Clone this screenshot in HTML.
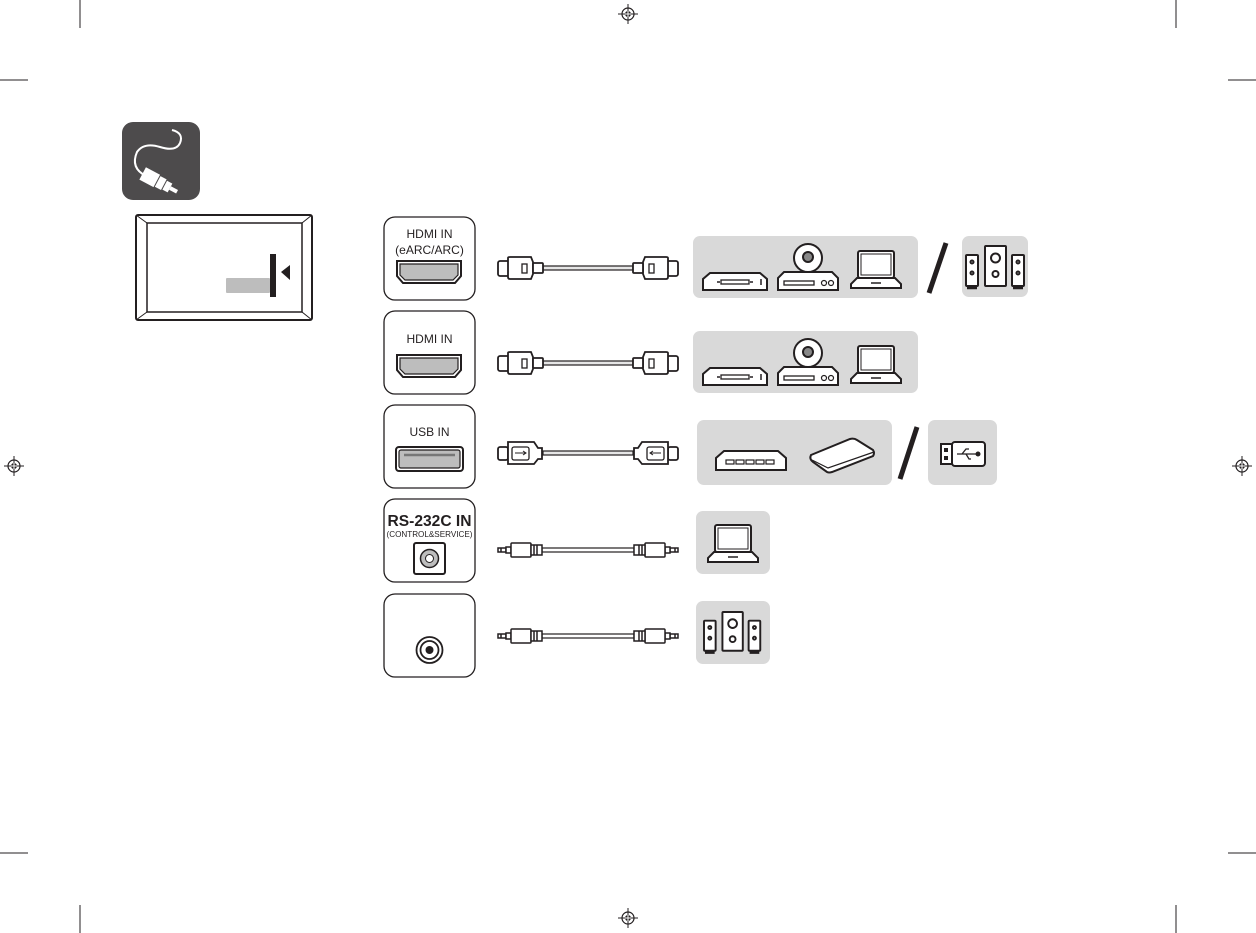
<!DOCTYPE html>
<html><head><meta charset="utf-8"><style>
html,body{margin:0;padding:0;background:#fff}
svg{display:block}
text{font-family:"Liberation Sans","DejaVu Sans",sans-serif;fill:#231f20}
</style></head><body>
<svg width="1256" height="933" viewBox="0 0 1256 933" xmlns="http://www.w3.org/2000/svg">
<defs>
<g id="reg"><circle cx="0" cy="0" r="6" fill="none" stroke="#231f20" stroke-width="1.2"/><circle cx="0" cy="0" r="3" fill="#231f20"/><path d="M-10 0H10M0 -10V10" stroke="#231f20" stroke-width="1"/><path d="M-3 0H3M0 -3V3" stroke="#fff" stroke-width="1"/></g>
<g id="laptop" fill="#fff" stroke="#231f20" stroke-width="2"><rect x="7" y="1" width="36" height="27" rx="2"/><rect x="10" y="4" width="30" height="21" stroke-width="1"/><path d="M0 38H50V34L44 28H6L0 34Z"/><path d="M20 33H30" stroke-width="1.5"/></g>
<g id="dvd" fill="#fff" stroke="#231f20" stroke-width="2"><circle cx="30" cy="15" r="14"/><circle cx="30" cy="14" r="5" fill="#888"/><path d="M0 47H60V35L54 29H6L0 35Z"/><rect x="6" y="38" width="30" height="4" stroke-width="1.3"/><circle cx="46" cy="40" r="2.5" stroke-width="1.2"/><circle cx="53" cy="40" r="2.5" stroke-width="1.2"/></g>
<g id="vcr" fill="#fff" stroke="#231f20" stroke-width="2"><path d="M0 18H64V7L57 1H7L0 7Z"/><rect x="18" y="8" width="28" height="4" stroke-width="1.3"/><path d="M14 10H17M47 10H50M58 7V13" stroke-width="1.5"/></g>
<g id="spk" fill="#fff" stroke="#231f20" stroke-width="2"><rect x="0" y="10" width="12" height="31" rx="1"/><rect x="46" y="10" width="12" height="31" rx="1"/><rect x="19" y="1" width="21" height="40" rx="1"/><circle cx="29.5" cy="13" r="4.5"/><circle cx="29.5" cy="29" r="3"/><circle cx="6" cy="17" r="1.5"/><circle cx="6" cy="28" r="1.5"/><circle cx="52" cy="17" r="1.5"/><circle cx="52" cy="28" r="1.5"/><path d="M1 43H11M47 43H57" stroke-width="2.5"/></g>
<g id="hdmiplug" fill="#fff" stroke="#231f20" stroke-width="1.8"><rect x="0" y="-7" width="11" height="15" rx="2"/><path d="M10 -10Q10 -11 12 -11H33L35 -6V6L33 11H12Q10 11 10 9Z"/><rect x="24" y="-4" width="5" height="9" stroke-width="1.3"/><rect x="35" y="-5" width="10" height="10" rx="1"/></g>
<g id="usbplug" fill="#fff" stroke="#231f20" stroke-width="1.8"><rect x="0" y="-6" width="10" height="13" rx="2"/><path d="M10 -11H36L40 -5H44V6H40L36 11H10Z"/><rect x="14" y="-6" width="17" height="13" rx="2" stroke-width="1.3"/><path d="M17 0H28M25 -2L28 0L25 2" stroke-width="1"/></g>
<g id="jack" fill="#fff" stroke="#231f20" stroke-width="1.5"><path d="M0 -2H8V2H0Z"/><path d="M3 -2V2"/><rect x="8" y="-3" width="5" height="6"/><rect x="13" y="-7" width="20" height="14" rx="1"/><rect x="33" y="-5" width="11" height="10"/><path d="M36 -5V5M39 -5V5"/></g>
</defs>

<g stroke="#231f20" stroke-width="1">
<path d="M80 0V28M0 80H28M1176 0V28M1228 80H1256M80 905V933M0 853H28M1176 905V933M1228 853H1256"/>
</g>
<use href="#reg" x="628" y="14"/><use href="#reg" x="14" y="466"/><use href="#reg" x="1242" y="466"/><use href="#reg" x="628" y="918"/>

<rect x="122" y="122" width="78" height="78" rx="11" fill="#4d4b4c"/>
<path d="M146 176Q130 168 137 152Q144 142 160 147Q176 152 180 143Q184 133 172 130" fill="none" stroke="#fff" stroke-width="2"/>
<g transform="translate(155 180) rotate(28)"><rect x="-14" y="-7" width="16" height="14" fill="#fff"/><rect x="3" y="-6" width="7" height="12" fill="#fff"/><rect x="11" y="-5" width="6" height="10" fill="#fff"/><rect x="17" y="-2" width="8" height="4" fill="#fff"/></g>

<rect x="136" y="215" width="176" height="105" rx="2" fill="#fff" stroke="#231f20" stroke-width="2"/>
<rect x="147" y="223" width="155" height="89" fill="none" stroke="#231f20" stroke-width="1.5"/>
<path d="M136 215L147 223M312 215L302 223M136 320L147 312M312 320L302 312" stroke="#231f20" stroke-width="1"/>
<rect x="226" y="278" width="44" height="15" rx="1" fill="#bdbdbd"/>
<rect x="270" y="254" width="6" height="43" fill="#231f20"/>
<path d="M281 272L290 265V280Z" fill="#231f20"/>

<g fill="#fff" stroke="#231f20" stroke-width="1.3">
<rect x="384" y="217" width="91" height="83" rx="11"/>
<rect x="384" y="311" width="91" height="83" rx="11"/>
<rect x="384" y="405" width="91" height="83" rx="11"/>
<rect x="384" y="499" width="91" height="83" rx="11"/>
<rect x="384" y="594" width="91" height="83" rx="11"/>
</g>
<text x="429.5" y="238" font-size="12" text-anchor="middle">HDMI IN</text>
<text x="429.5" y="254" font-size="12" text-anchor="middle">(eARC/ARC)</text>
<text x="429.5" y="343" font-size="12" text-anchor="middle">HDMI IN</text>
<text x="429.5" y="436" font-size="12" text-anchor="middle">USB IN</text>
<text x="429.5" y="526" font-size="16" font-weight="bold" text-anchor="middle" textLength="84" lengthAdjust="spacingAndGlyphs">RS-232C IN</text>
<text x="429.5" y="537" font-size="8" text-anchor="middle" textLength="86" lengthAdjust="spacingAndGlyphs">(CONTROL&amp;SERVICE)</text>
<g stroke="#231f20" stroke-width="2">
<path d="M397 261H461V276L455 283H403L397 276Z" fill="#fff"/>
<path d="M400 264H458V275L453 280H405L400 275Z" fill="#bdbdbd" stroke-width="1.2"/>
<path d="M397 355H461V370L455 377H403L397 370Z" fill="#fff"/>
<path d="M400 358H458V369L453 374H405L400 369Z" fill="#bdbdbd" stroke-width="1.2"/>
<rect x="396" y="447" width="67" height="24" rx="3" fill="#fff"/>
<rect x="399" y="450" width="61" height="18" rx="2" fill="#bdbdbd" stroke-width="1.2"/>
<path d="M404 455H455" stroke-width="2.5" stroke="#777"/>
<rect x="414" y="543" width="31" height="31" rx="2" fill="#fff"/>
<circle cx="429.5" cy="558.5" r="9" fill="#bdbdbd" stroke-width="1.5"/>
<circle cx="429.5" cy="558.5" r="4" fill="#fff" stroke-width="1"/>
<circle cx="429.5" cy="650" r="13" fill="#fff" stroke-width="1.8"/>
<circle cx="429.5" cy="650" r="9" fill="#fff" stroke-width="1.8"/>
<circle cx="429.5" cy="650" r="4" fill="#231f20" stroke="none"/>
</g>

<g stroke="#231f20" stroke-width="1.2" fill="#e6e6e6">
<rect x="543" y="266" width="90" height="4"/>
<rect x="543" y="361" width="90" height="4"/>
<rect x="543" y="451" width="90" height="4"/>
<rect x="542" y="548" width="92" height="4" fill="#fff"/>
<rect x="542" y="634" width="92" height="4" fill="#fff"/>
</g>
<use href="#hdmiplug" transform="translate(498 268)"/>
<use href="#hdmiplug" transform="translate(678 268) scale(-1 1)"/>
<use href="#hdmiplug" transform="translate(498 363)"/>
<use href="#hdmiplug" transform="translate(678 363) scale(-1 1)"/>
<use href="#usbplug" transform="translate(498 453)"/>
<use href="#usbplug" transform="translate(678 453) scale(-1 1)"/>
<use href="#jack" transform="translate(498 550)"/>
<use href="#jack" transform="translate(678 550) scale(-1 1)"/>
<use href="#jack" transform="translate(498 636)"/>
<use href="#jack" transform="translate(678 636) scale(-1 1)"/>

<g fill="#d9d9d9">
<rect x="693" y="236" width="225" height="62" rx="7"/>
<rect x="962" y="236" width="66" height="61" rx="7"/>
<rect x="693" y="331" width="225" height="62" rx="7"/>
<rect x="697" y="420" width="195" height="65" rx="7"/>
<rect x="928" y="420" width="69" height="65" rx="7"/>
<rect x="696" y="511" width="74" height="63" rx="7"/>
<rect x="696" y="601" width="74" height="63" rx="7"/>
</g>
<path d="M929 293L946 243" stroke="#231f20" stroke-width="5"/>
<path d="M900 479L917 427" stroke="#231f20" stroke-width="5"/>

<use href="#vcr" x="703" y="272"/><use href="#dvd" x="778" y="243"/><use href="#laptop" x="851" y="250"/>
<use href="#vcr" x="703" y="367"/><use href="#dvd" x="778" y="338"/><use href="#laptop" x="851" y="345"/>
<use href="#spk" x="966" y="245"/>
<use href="#laptop" x="708" y="524"/>
<use href="#spk" transform="translate(704 611) scale(0.97)"/>
<g fill="#fff" stroke="#231f20" stroke-width="2">
<path d="M716 470H786V458L778 451H724L716 458Z"/>
<g stroke-width="1.2"><rect x="726" y="460" width="8" height="4"/><rect x="736" y="460" width="8" height="4"/><rect x="746" y="460" width="8" height="4"/><rect x="756" y="460" width="8" height="4"/><rect x="766" y="460" width="8" height="4"/></g>
<path d="M811 455L850 439Q854 438 857 440L873 450Q875 453 873 456L832 472Q829 473 827 472L813 462Q809 459 811 455Z"/>
<path d="M812 460L828 468L874 452" stroke-width="1.2" fill="none"/>
<path d="M941 444H952V464H941Z"/>
<rect x="952" y="442" width="33" height="24" rx="3"/>
<rect x="944" y="448" width="4" height="4" fill="#231f20" stroke="none"/>
<rect x="944" y="456" width="4" height="4" fill="#231f20" stroke="none"/>
<path d="M957 454H976M962 454L966 449H969M966 454L969 459H971" stroke-width="1.3" fill="none"/>
<circle cx="978" cy="454" r="2.5" fill="#231f20" stroke="none"/>
</g>
</svg>
</body></html>
